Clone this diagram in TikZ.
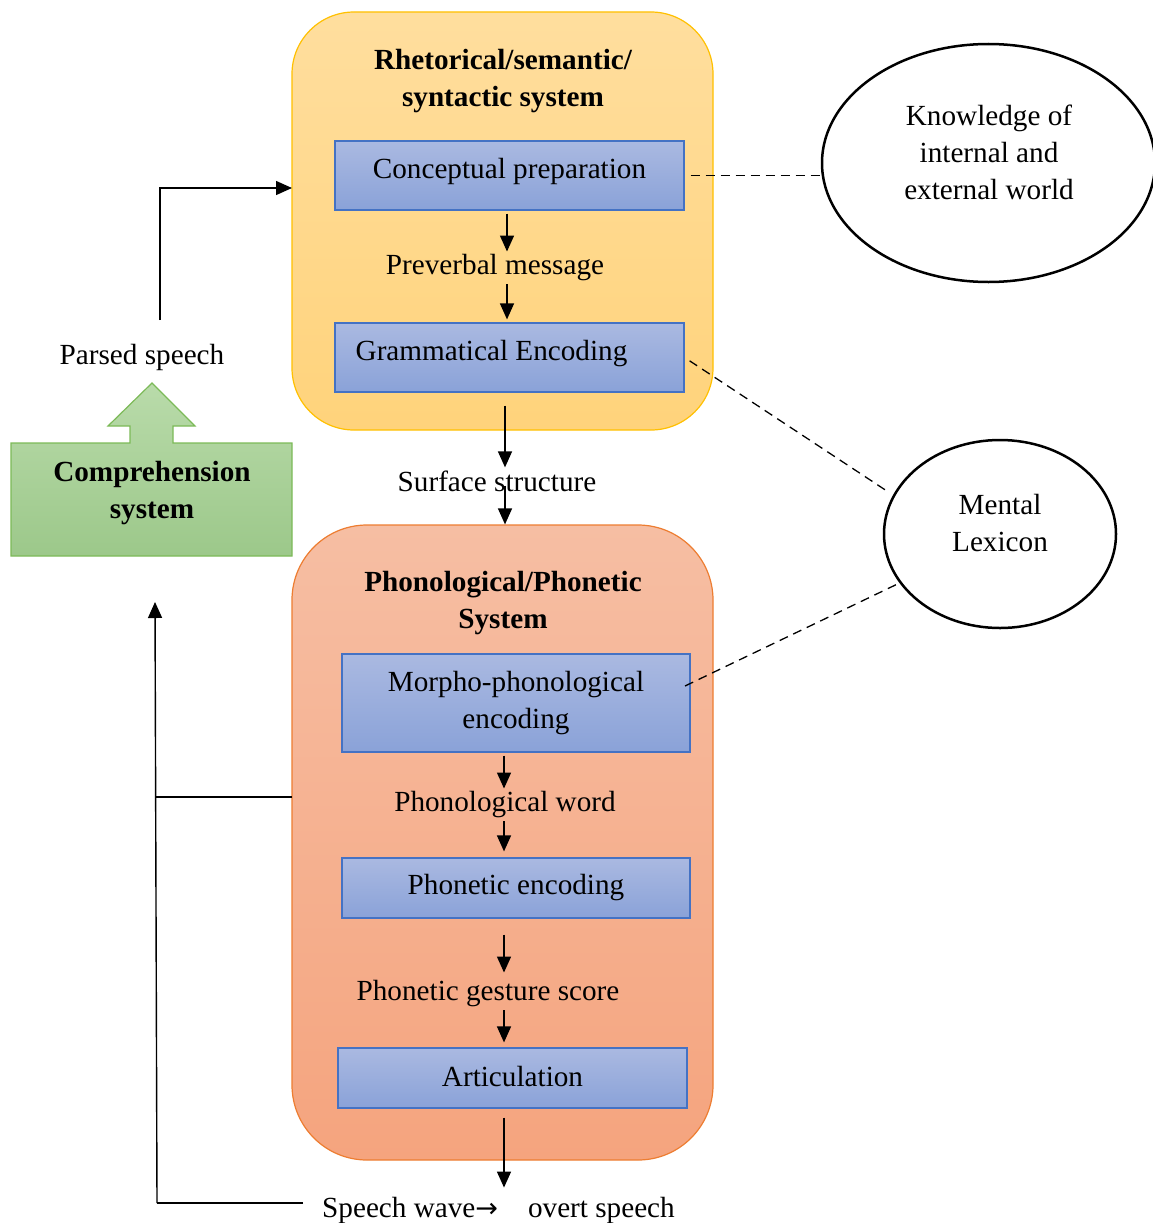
\documentclass[tikz,border=0pt]{standalone}
\usepackage{fontspec}
\setmainfont{Liberation Serif}
\newfontfamily\arrowfont{DejaVu Sans}
\usetikzlibrary{arrows.meta,shapes.geometric}

\definecolor{sysTopA}{HTML}{FFDE9E}
\definecolor{sysTopB}{HTML}{FFD37B}
\definecolor{sysTopLine}{HTML}{FFC000}
\definecolor{sysBotA}{HTML}{F6BEA3}
\definecolor{sysBotB}{HTML}{F5A47E}
\definecolor{sysBotLine}{HTML}{ED7D31}
\definecolor{stageA}{HTML}{AAB9E1}
\definecolor{stageB}{HTML}{8AA2D8}
\definecolor{stageLine}{HTML}{4472C4}
\definecolor{compA}{HTML}{B9DBAA}
\definecolor{compB}{HTML}{9CC88A}
\definecolor{compLine}{HTML}{7CBA58}

% lift a stage label without changing its box
\newcommand{\liftlabel}[2]{\raisebox{#1}[\height][\depth]{#2}}

\begin{document}
\begin{tikzpicture}[x=1pt,y=-1pt,
  every node/.style={font=\fontsize{29.2}{37}\selectfont},
  system/.style={draw, line width=1.2pt, rounded corners=#1, inner sep=0pt},
  stagebox/.style={draw=stageLine, line width=1.2pt, top color=stageA, bottom color=stageB,
    inner sep=0pt, align=center},
  lbl/.style={inner sep=3pt, align=center},
  title/.style={inner sep=0pt, align=center, font=\fontsize{29.2}{37}\selectfont\bfseries},
  arr/.style={-{Triangle[length=16pt,width=14pt]}, line width=1.4pt},
  plain/.style={line width=1.4pt},
  link/.style={line width=1.3pt, dash pattern=on 9pt off 6pt},
  store/.style={ellipse, draw, line width=2.5pt, inner sep=0pt},
  storetext/.style={inner sep=0pt, align=center}
]
\useasboundingbox (0,0) rectangle (1153,1223);

% the two processing systems
\node[system=62pt, draw=sysTopLine, top color=sysTopA, bottom color=sysTopB,
  minimum width=421pt, minimum height=418pt] (top) at (502.5,221) {};
\node[system=75pt, draw=sysBotLine, top color=sysBotA, bottom color=sysBotB,
  minimum width=421pt, minimum height=635pt] (bot) at (502.5,842.5) {};

\node[title] (topTitle) at (503,81) {Rhetorical/semantic/\\syntactic system};
\node[title] (botTitle) at (503,603) {Phonological/Phonetic\\System};

% processing stages
\node[stagebox, minimum width=349pt, minimum height=69pt] (cp) at (509.5,175.5) {\liftlabel{4pt}{Conceptual preparation}};
\node[lbl] (pm) at (495,268) {Preverbal message};
\node[stagebox, minimum width=349pt, minimum height=69pt] (ge) at (509.5,357.5) {\hspace*{-36pt}\liftlabel{4pt}{Grammatical Encoding}};
\node[lbl] (ss) at (497,481) {Surface structure};
\node[stagebox, minimum width=348pt, minimum height=98pt] (mp) at (516,703) {Morpho-phonological\\encoding};
\node[lbl] (pw) at (505,805) {Phonological word};
\node[stagebox, minimum width=348pt, minimum height=60pt] (pe) at (516,888) {Phonetic encoding};
\node[lbl] (pg) at (488,994) {Phonetic gesture score};
\node[stagebox, minimum width=349pt, minimum height=60pt] (ar) at (512.5,1078) {\liftlabel{2pt}{Articulation}};
\node[lbl] (sw) at (498.5,1210) {Speech wave{\arrowfont\fontsize{27}{30}\selectfont →}\hspace{30pt}overt speech};

% knowledge stores
\node[store, minimum width=333pt, minimum height=238pt] (kn) at (988.5,163) {};
\node[storetext] (knText) at (989,152) {Knowledge of\\internal and\\external world};
\node[store, minimum width=232pt, minimum height=188pt] (ml) at (1000,534) {};
\node[storetext] (mlText) at (1000,523) {Mental\\Lexicon};

% comprehension system as a block arrow
\path[draw=compLine, line width=1.2pt, top color=compA, bottom color=compB]
  (11,443) -- (130,443) -- (130,426) -- (108,426) -- (152,383) -- (195,426)
  -- (173,426) -- (173,443) -- (292,443) -- (292,556) -- (11,556) -- cycle;
\node[title] (comp) at (152,493) {Comprehension\\system};
\node[lbl] (ps) at (142,357) {Parsed speech};

% main production flow
\coordinate (axisA) at (507,0);
\coordinate (axisB) at (505,0);
\coordinate (axisC) at (504,0);
\draw[arr, shorten <=3pt] (cp.south -| axisA) -- (pm.north -| axisA);
\draw[arr, shorten >=3pt] (pm.south -| axisA) -- (ge.north -| axisA);
\draw[arr, shorten <=13pt] (ge.south -| axisB) -- (ss.north -| axisB);
\draw[arr, shorten <=-9pt] (ss.south -| axisB) -- (bot.north -| axisB);
\draw[arr, shorten <=3pt] (mp.south -| axisC) -- (pw.north -| axisC);
\draw[arr, shorten >=6pt] (pw.south -| axisC) -- (pe.north -| axisC);
\draw[arr, shorten <=16pt, shorten >=5pt] (pe.south -| axisC) -- (pg.north -| axisC);
\draw[arr, shorten >=5pt] (pg.south -| axisC) -- (ar.north -| axisC);
\draw[arr, shorten <=9pt, shorten >=6pt] (ar.south -| axisC) -- (sw.north -| axisC);

% comprehension feedback loops
\coordinate (psTop) at (160,320);
\coordinate (topIn) at (292,188);
\draw[arr] (psTop) |- (topIn);

\coordinate (fbStart) at (292,797);
\coordinate (fbJoin) at (155,797);
\coordinate (fbTop) at (155,602);
\coordinate (fbBot) at (157,1203);
\coordinate (fbEnd) at (303,1203);
\draw[plain] (fbStart) -- (fbJoin);
\draw[arr] (fbBot) -- (fbTop);
\draw[plain] (fbEnd) -- (fbBot);

% links to the knowledge stores
\draw[link, shorten <=6pt] (cp.east) -- (cp.east -| kn.west);
\draw[link, shorten <=6pt, shorten >=9pt] (ge.east) -- (ml.160);
\coordinate (mpLink) at (685,686);
\draw[link, shorten >=4pt] (mpLink) -- (ml.206);
\end{tikzpicture}
\end{document}
